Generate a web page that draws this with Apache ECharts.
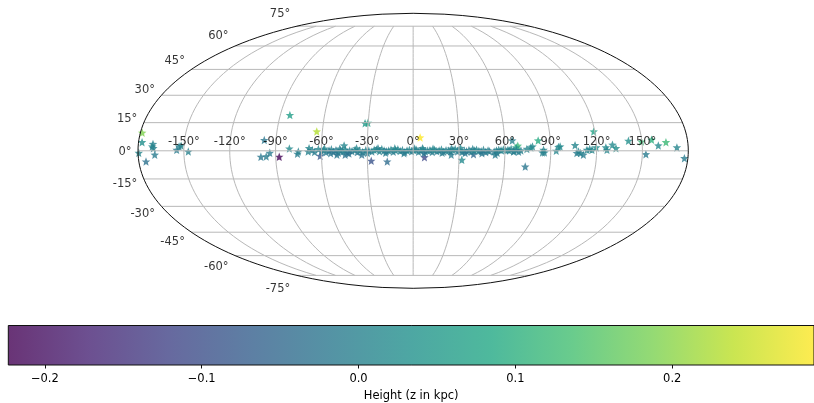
<!DOCTYPE html>
<html>
<head>
<meta charset="utf-8">
<style>html,body{margin:0;padding:0;background:#fff}#main{width:814px;height:403px}</style>
<script src="https://cdn.jsdelivr.net/npm/echarts@6/dist/echarts.min.js"></script>
</head>
<body>
<div id="main"></div>
<script>
// scattered stars off the disc: galactic lon, lat (deg) and height z (kpc)
var starLon = [-83.5,-32.1,-30.2,-178.8,-177.7,-63.7,-97.7,-170.4,-170.8,-170,
    -169.1,-179.5,-175.3,-151.9,-153.2,-154.7,-147.1,-99.7,-96.2,-93.8,
    -87.7,-81,-75.7,-75.1,-68.1,-68.7,-45.2,-60.9,-44.5,-49.9,
    -27.5,-17,-33.6,4.6,7.4,6.1,24.9,31.9,39.5,53.7,
    65,68.5,67.4,64.1,65.6,73.8,82,74.4,77,78.1,
    85.3,84.6,85.9,93.6,95.1,96.2,106,107.1,108.2,111.4,
    113.7,117,119.8,119.3,126.1,126.8,130.5,132.7,141.2,156.5,
    149.7,160.5,165.7,172.6,177.7,152.3,109.5,115.5];
var starLat = [19.1,14.7,14.9,9.6,4.6,10.3,5.7,3.6,2.3,1.4,
    -2.1,-1.1,-5.7,2.7,2.3,0.5,-0.4,-3.2,-3,-1.1,
    -3.2,1.2,-1.6,-0.4,1.4,-0.4,2.8,-2.7,-2.1,-2.1,
    -5.3,-5.7,-2.1,7.1,-3.4,1.4,-2.1,-4.8,-1.8,-2.1,
    5.5,2.7,1.8,1,-0.4,-8.4,5.5,1,1.8,2.3,
    0.5,-0.9,-0.9,0,2,2.3,3,-1.2,-0.4,-2.1,
    0.5,0.5,1.8,10.3,1.8,0.5,3.2,1.4,5.3,5.9,
    4.9,2.8,4.6,1.8,-3.9,-1.8,-1.2,1];
var starZ = [0.06,0.05,0.07,0.19,0.03,0.23,-0.02,0,0.01,0,
    -0.01,0.01,-0.03,0.01,0,-0.01,0,-0.02,-0.01,-0.01,
    -0.22,0.02,-0.01,0,0.01,0,0.01,-0.08,-0.03,-0.02,
    -0.09,-0.04,-0.03,0.29,-0.11,0,-0.01,0.02,-0.05,-0.01,
    0,0.12,0.06,0.01,0,-0.02,0.09,0.01,0.01,0.02,
    0.01,0,0,0.01,0.01,0.02,0.01,-0.01,0,-0.01,
    0.01,0.01,0.03,0.07,0.02,0.01,0.02,0.03,0.03,0.1,
    0.12,0.02,0.12,0.01,-0.01,-0.01,0,0.01];

// the crowded band along the plane
var bandLon = [-66,-64.5,-62,-60,-58.5,-57,-55,-53.5,-52,-50.5,
    -49,-47.5,-46,-44.5,-43,-41.5,-40,-38,-36.5,-35,
    -33,-31,-29,-27,-25.5,-24,-22,-20.5,-19,-17.5,
    -16,-14.5,-13,-11.5,-10,-8.5,-7,-5.5,-4,-2.5,
    -1,0.5,2,3.5,5,6.5,8,9.5,11,12.5,
    14,15.5,17,18.5,20,21.5,23,24.5,26,27.5,
    29,30.5,32,33.5,35,36.5,38,40,41.5,43,
    44.5,46,47.5,49,50,53,54.5,56,57.5,59,
    60.5,62,63,66,67.5,69,70.5,
    -58,-54,-48,-42,-37,-30,-23,-18,-12,-6,
    1,7,13,19,25,31,34,39,45,55];
var bandLat = [0.4,-0.6,0.9,-0.3,0.5,-0.8,0.2,0.8,-0.5,0.3,
    -1,0.2,-0.4,0.6,-0.9,0.1,-0.2,0.5,-0.7,0.2,
    -0.6,0.3,0.1,-0.4,0.5,0.7,-0.2,0.9,0.2,-0.3,
    0.1,0.6,-0.5,0.3,0.8,-0.1,0.4,-0.6,0.2,0.5,
    -0.3,0.3,0.6,-0.5,0.2,0.7,-0.4,0.1,0.3,-0.6,
    0.5,-0.2,0.2,0.7,-0.5,0.3,0.1,-0.3,0.6,0.9,
    -0.4,0.3,-0.6,0.1,-0.2,0.4,-0.5,0.2,0.6,-0.1,
    -0.3,0.5,-0.7,0.2,-0.2,-0.4,0.2,0.6,0.3,0.7,
    0.3,0.5,0.2,-0.2,0.4,-0.5,0.2,
    1.2,-1.3,1.1,-1.4,1.3,-1.2,1.4,-1.1,1.3,-1.3,
    1.2,-1.2,1.1,-1,1.2,1.5,-1.2,1,-1.3,-1.1];
var bandZ = [0,-0.01,0.01,-0.02,0,-0.01,-0.02,0,-0.03,-0.01,
    -0.02,0,-0.01,0.01,-0.02,0,-0.01,0,-0.02,0,
    -0.01,0,0,-0.01,0.01,0.01,0,0.01,0,-0.01,
    0,0.01,-0.01,0,0.01,0,0,-0.01,0,0.01,
    -0.01,0,0.01,-0.01,0,0.01,-0.01,0,0,-0.01,
    0.01,-0.01,0,0.01,-0.01,0,0,-0.01,0.01,0.01,
    -0.01,0,-0.01,0,-0.01,0,-0.01,0,0.01,0,
    -0.01,0,-0.02,0,-0.01,-0.01,0,0.01,0,0.01,
    0,0.01,0,-0.01,0,-0.01,0,
    0.01,-0.02,0,-0.03,0.01,-0.01,0,-0.01,0.01,-0.01,
    0,-0.02,0.01,-0.01,0,0.01,-0.02,0,-0.02,-0.01];

var lonTicks = [-150,-120,-90,-60,-30,0,30,60,90,120,150];
var latTicks = [-75,-60,-45,-30,-15,0,15,30,45,60,75];
var zTicks = [-0.2,-0.1,0,0.1,0.2];
var zMin = -0.2233, zMax = 0.2904;
var viridis = ['#440154','#482475','#414487','#355f8d','#2a788e','#21918c','#22a884','#44bf70','#7ad151','#bddf26','#fde725'];

var SQRT2 = Math.SQRT2;

// Mollweide, lon/lat in degrees -> [x, y] on the hidden value axes
function mollweide(lon, lat) {
    var phi = lat * Math.PI / 180;
    var t = phi;
    if (Math.abs(lat) < 90) {
        for (var i = 0; i < 30; i++) {
            t -= (2 * t + Math.sin(2 * t) - Math.PI * Math.sin(phi)) / (2 + 2 * Math.cos(2 * t));
        }
    }
    return [2 * SQRT2 / Math.PI * (lon * Math.PI / 180) * Math.cos(t), SQRT2 * Math.sin(t)];
}

var stars = [];
starLon.forEach(function (lon, i) {
    stars.push(mollweide(lon, starLat[i]).concat(starZ[i]));
});
bandLon.forEach(function (lon, i) {
    stars.push(mollweide(lon, bandLat[i]).concat(bandZ[i]));
});

function lineSeries(points, color, width, z) {
    return {
        type: 'line', data: points, showSymbol: false, symbol: 'none', clip: false, silent: true, z: z,
        lineStyle: { color: color, width: width }
    };
}

var series = [{
    type: 'scatter',
    data: stars,
    clip: false,
    symbol: 'path://M12 0L15.1 8L23.4 8.3L16.9 13.7L19 22L12 17.6L5 22L7.1 13.7L0.6 8.3L8.9 8Z',
    symbolSize: 8.5,
    itemStyle: { opacity: 0.8 },
    z: 2
}];

// graticule, grid lines sit above the stars like in matplotlib
lonTicks.forEach(function (lon) {
    var pts = [];
    for (var lat = -75; lat <= 75; lat += 2.5) pts.push(mollweide(lon, lat));
    series.push(lineSeries(pts, '#b8b8b8', 1, 3));
});
latTicks.forEach(function (lat) {
    series.push(lineSeries([mollweide(-180, lat), mollweide(180, lat)], '#b8b8b8', 1, 3));
});

// outline
var outline = [];
for (var a = -90; a <= 90; a += 2) outline.push(mollweide(-180, a));
for (var b = 90; b >= -90; b -= 2) outline.push(mollweide(180, b));
series.push(lineSeries(outline, '#111', 1, 4));

var labelFont = { fontFamily: 'DejaVu Sans', fontSize: 11.5, color: '#000' };

// longitude labels
series.push({
    type: 'scatter', symbolSize: 0, silent: true, clip: false, z: 5,
    data: lonTicks.map(function (lon) {
        return { value: mollweide(lon, 0), name: lon + '°' };
    }),
    label: Object.assign({ show: true, position: 'inside', offset: [0, -8.5], formatter: '{b}' }, labelFont)
});

// latitude labels, hung off the left edge of the ellipse
series.push({
    type: 'scatter', symbolSize: 0, silent: true, clip: false, z: 5,
    data: latTicks.map(function (lat) {
        var dy = lat === 0 ? 0 : -(lat > 0 ? 1 : -1) * (2 + Math.abs(lat) * 0.15);
        return {
            value: mollweide(-180, lat), name: lat + '°',
            label: { offset: [0, dy + 0.8] }
        };
    }),
    label: Object.assign({ show: true, position: 'left', distance: 6.5, formatter: '{b}' }, labelFont)
});

// colorbar
series.push({
    type: 'custom',
    xAxisIndex: 1, yAxisIndex: 1,
    silent: true,
    clip: false,
    data: [[zMin, zMax]],
    encode: { x: [0, 1] },
    renderItem: function (params, api) {
        var p0 = api.coord([api.value(0), 1]);
        var p1 = api.coord([api.value(1), 0]);
        var stops = viridis.map(function (c, i) {
            var col = echarts.color.modifyAlpha(c, 0.8);
            return { offset: i / (viridis.length - 1), color: col };
        });
        return {
            type: 'rect',
            shape: { x: p0[0], y: p0[1], width: p1[0] - p0[0], height: p1[1] - p0[1] },
            style: {
                fill: new echarts.graphic.LinearGradient(0, 0, 1, 0, stops),
                stroke: '#111', lineWidth: 1
            }
        };
    }
});

var myChart = echarts.init(document.getElementById('main'), null, { renderer: 'canvas' });
myChart.setOption({
    animation: false,
    backgroundColor: '#fff',
    grid: [
        { left: 138, top: 13.3, width: 550.3, height: 275 },
        { left: 8.3, top: 325.5, width: 809.4, height: 41 }
    ],
    xAxis: [
        { type: 'value', gridIndex: 0, min: -2 * SQRT2, max: 2 * SQRT2, show: false },
        {
            type: 'value', gridIndex: 1, min: zMin, max: zMax,
            name: 'Height (z in kpc)', nameLocation: 'middle', nameGap: 25,
            nameTextStyle: labelFont,
            axisLine: { show: false },
            splitLine: { show: false },
            axisTick: { show: true, length: 3.5, customValues: zTicks, lineStyle: { color: '#111', width: 1 } },
            axisLabel: {
                show: true, margin: 8, customValues: zTicks,
                showMinLabel: true, showMaxLabel: true,
                fontFamily: 'DejaVu Sans', fontSize: 11.5, color: '#000',
                formatter: function (v) { return v.toFixed(1).replace('-', '−'); }
            }
        }
    ],
    yAxis: [
        { type: 'value', gridIndex: 0, min: -SQRT2, max: SQRT2, show: false },
        { type: 'value', gridIndex: 1, min: 0, max: 1, show: false }
    ],
    visualMap: {
        type: 'continuous', show: false, seriesIndex: 0, dimension: 2,
        min: zMin, max: zMax, inRange: { color: viridis }
    },
    series: series
});
</script>
</body>
</html>
